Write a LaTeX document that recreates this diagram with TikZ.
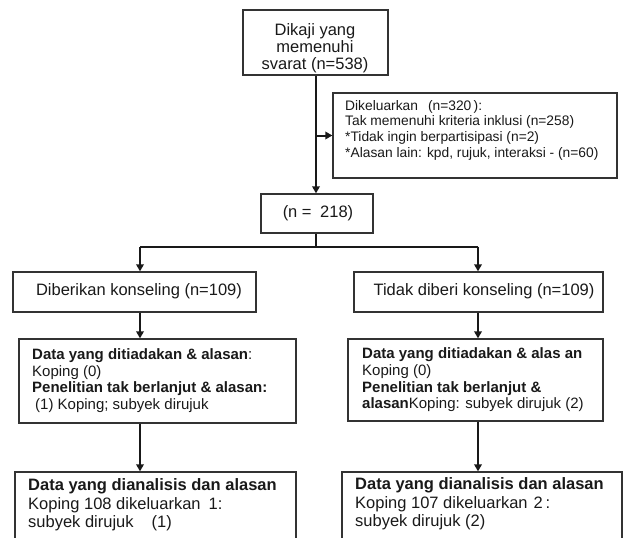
\documentclass[tikz,border=0pt]{standalone}
\usepackage{fontspec}
\setmainfont{Liberation Sans}
\usetikzlibrary{arrows.meta}
\begin{document}
\begin{tikzpicture}[x=1pt,y=-1pt,
  box/.style={draw=black!80, line width=1.3pt, inner sep=0pt},
  link/.style={line width=2pt, draw=black!90},
  arr/.style={link, -{Triangle[length=7pt,width=7.5pt]}},
  txt/.style={inner sep=0pt, align=left, anchor=west, text=black!90},
  ctxt/.style={inner sep=0pt, align=center, text=black!90},
  fbig/.style={font=\fontsize{16.5}{17}\selectfont},
  fsmall/.style={font=\fontsize{13.8}{15.7}\selectfont},
  fmid/.style={font=\fontsize{15}{16.7}\selectfont},
  fbot/.style={font=\fontsize{16.5}{18.3}\selectfont},
]
\useasboundingbox (0,0) rectangle (624,538);
\clip (0,0) rectangle (624,538);

% boxes
\node[box, minimum width=145pt, minimum height=65pt] (top) at (315.5,42.5) {};
\node[box, minimum width=284pt, minimum height=85pt] (excl) at (475,135.5) {};
\node[box, minimum width=112pt, minimum height=39pt] (n218) at (317,213.5) {};
\node[box, minimum width=243pt, minimum height=40pt] (konsL) at (134.5,292) {};
\node[box, minimum width=249pt, minimum height=40pt] (konsR) at (478.5,292) {};
\node[box, minimum width=277pt, minimum height=84pt] (dataL) at (157.5,381) {};
\node[box, minimum width=255pt, minimum height=82pt] (dataR) at (475.5,380) {};
\node[box, minimum width=281pt, minimum height=90pt] (anL) at (155.5,517) {};
\node[box, minimum width=280pt, minimum height=90pt] (anR) at (482,517) {};

% texts
\node[ctxt, fbig] (topt) at (315,48) {Dikaji yang\\memenuhi\\svarat (n=538)};
\node[txt, fsmall] (exclt) at (345,130) {Dikeluarkan\hspace{10pt}(n=320\,):\\Tak memenuhi kriteria inklusi (n=258)\\*Tidak ingin berpartisipasi (n=2)\\*Alasan lain: kpd, rujuk, interaksi - (n=60)};
\node[ctxt, fbig] (n218t) at (318,213) {(n =\hspace{4pt} 218)};
\node[ctxt, fbig] (konsLt) at (139,291) {Diberikan konseling (n=109)};
\node[ctxt, fbig] (konsRt) at (484,291) {Tidak diberi konseling (n=109)};
\node[txt, fmid] (dataLt) at (32,380.5) {\textbf{Data yang ditiadakan \& alasan}:\\Koping (0)\\\textbf{Penelitian tak berlanjut \& alasan:}\\\hspace{3pt}(1) Koping; subyek dirujuk};
\node[txt, fmid] (dataRt) at (362,380) {\textbf{Data yang ditiadakan \& alas an}\\Koping (0)\\\textbf{Penelitian tak berlanjut \&}\\\textbf{alasan}Koping: subyek dirujuk (2)};
\node[txt, fbot] (anLt) at (28,505) {\textbf{Data yang dianalisis dan alasan}\\Koping 108 dikeluarkan\hspace{8pt}1:\\subyek dirujuk\hspace{18pt}(1)};
\node[txt, fbot] (anRt) at (355,504) {\textbf{Data yang dianalisis dan alasan}\\Koping 107 dikeluarkan\hspace{6pt}2\,:\\subyek dirujuk (2)};

% connectors
\coordinate (mainx) at (316,0);
\coordinate (lx) at (140,0);
\coordinate (rx) at (478,0);
\coordinate (brL) at (140,246.5);
\coordinate (brR) at (478,246.5);
\draw[arr] (mainx |- top.south) -- (mainx |- n218.north);
\draw[arr] (mainx |- excl.west) -- (excl.west);
\draw[link] (mainx |- n218.south) -- (mainx |- brL);
\draw[link] (brL) -- (brR);
\draw[arr] (brL) -- (lx |- konsL.north);
\draw[arr] (brR) -- (rx |- konsR.north);
\draw[arr] (lx |- konsL.south) -- (lx |- dataL.north);
\draw[arr] (rx |- konsR.south) -- (rx |- dataR.north);
\draw[arr] (lx |- dataL.south) -- (lx |- anL.north);
\draw[arr] (rx |- dataR.south) -- (rx |- anR.north);
\end{tikzpicture}
\end{document}
